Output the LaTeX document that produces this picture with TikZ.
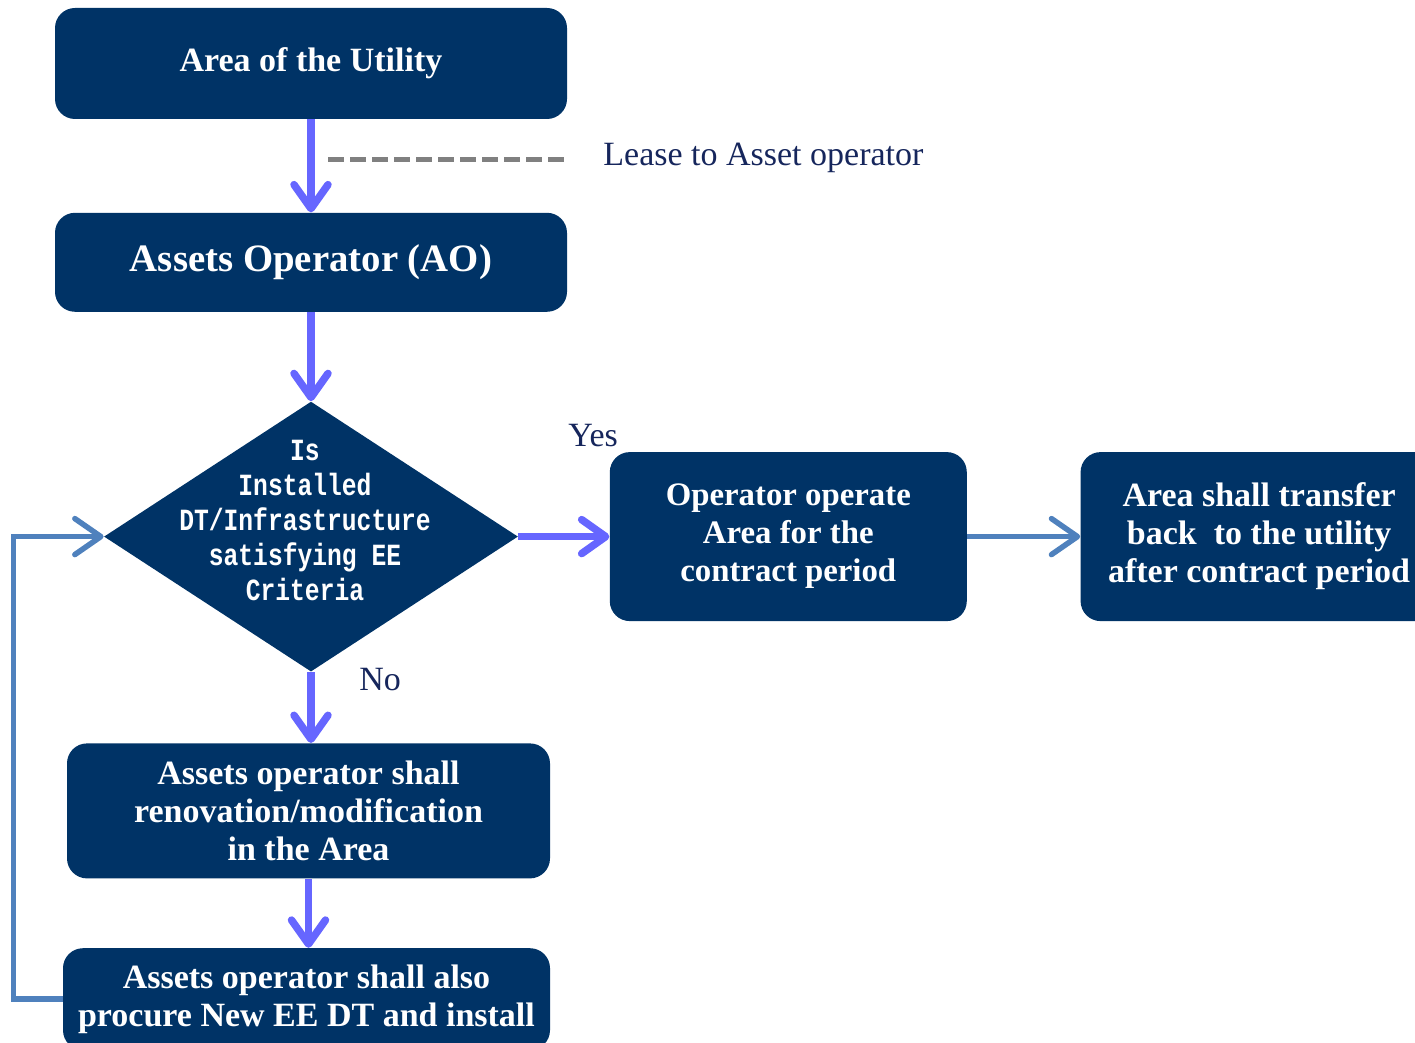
\documentclass[tikz,border=0pt]{standalone}
\usepackage{fontspec}
\setmainfont{Liberation Serif}
\setmonofont{Liberation Mono}
\usetikzlibrary{shapes.geometric,positioning,arrows.meta}
\definecolor{navy}{RGB}{0,51,102}
\definecolor{flowviolet}{RGB}{102,102,255}
\definecolor{steel}{RGB}{79,129,189}
\definecolor{labelblue}{RGB}{22,38,92}

\begin{document}
\begin{tikzpicture}[x=0.5pt,y=-0.5pt]
	\tikzstyle{box}=[rectangle,rounded corners=10pt,fill=navy,text=white,align=center,inner sep=0pt,font=\bfseries\fontsize{17}{19}\selectfont]
	\tikzstyle{decision}=[diamond,fill=navy,inner sep=0pt,minimum width=207pt,minimum height=135pt]
	\tikzstyle{dtext}=[text=white,align=center,inner sep=0pt,transform shape,xscale=0.8,font=\ttfamily\bfseries\fontsize{15.4}{17.5}\selectfont]
	\tikzstyle{note}=[text=labelblue,inner sep=0pt,font=\fontsize{17}{20}\selectfont]
	\tikzstyle{flow}=[draw=flowviolet,line width=3.75pt,-{Straight Barb[length=12pt,width=17pt,line cap=round,line join=round]}]
	\tikzstyle{back}=[draw=steel,line width=2.75pt,-{Straight Barb[length=13pt,width=18pt,line cap=round,line join=round]}]
	\tikzstyle{lease}=[draw=gray,line width=2.5pt,dash pattern=on 8pt off 3pt]

	\clip (0,0) rectangle (1415,1043);

	\node[box,minimum width=256pt,minimum height=55.5pt] (U) at (311,63.5) {Area of the Utility};
	\node[box,below=46.5pt of U,minimum width=256pt,minimum height=49.5pt,font=\bfseries\fontsize{19.4}{22}\selectfont] (AO) {Assets Operator (AO)};
	\node[decision,below=44.5pt of AO] (C) {};
	\node[dtext] (Ct) at ([xshift=-3pt,yshift=8pt]C.center) {Is\\Installed\\DT/Infrastructure\\satisfying EE\\Criteria};
	\node[box,right=45.5pt of C,minimum width=178.5pt,minimum height=84.5pt,font=\bfseries\fontsize{16.4}{19}\selectfont] (O) {Operator operate\\Area for the\\contract period};
	\node[box,right=56.5pt of O,minimum width=178.5pt,minimum height=84.5pt] (T) {Area shall transfer\\back\ \ to the utility\\after contract period};
	\node[box,below=35.5pt of C,xshift=-1.25pt,minimum width=241.5pt,minimum height=67.5pt] (R) {Assets operator shall\\renovation/modification\\in the Area};
	\node[box,below=34.5pt of R,xshift=-1pt,minimum width=243.5pt,minimum height=51pt] (P) {Assets operator shall also\\procure New EE DT and install};

	\node[note,anchor=base west] (L) at (603,166) {Lease to Asset operator};
	\node[note,anchor=base west] (Y) at (568,446) {Yes};
	\node[note,anchor=base west] (N) at (359,690) {No};
	\coordinate (D) at (328,160);

	\draw[lease] (D) -- (D -| U.east);
	\draw[flow] (U) -- (AO);
	\draw[flow] (AO) -- (C);
	\draw[flow] (C.east) -- (O.west);
	\draw[flow] (C.south) -- (C.south |- R.north);
	\draw[flow] (R.south) -- (R.south |- P.north);
	\draw[back] (O) -- (T);
	\draw[back] (P.west) -- ++(-49,0) |- (C.west);
\end{tikzpicture}
\end{document}
